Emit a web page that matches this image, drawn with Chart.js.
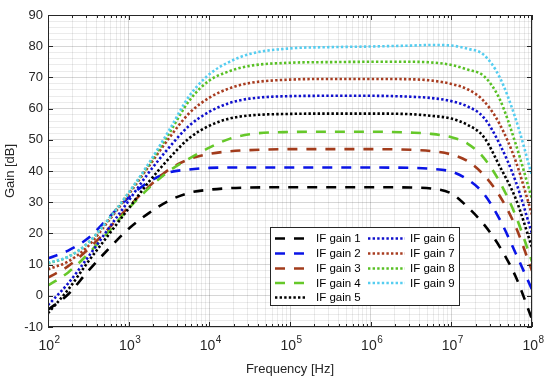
<!DOCTYPE html>
<html>
<head>
<meta charset="utf-8">
<script src="https://cdn.jsdelivr.net/npm/chart.js@4"></script>
<style>
  html, body { margin: 0; padding: 0; background: #ffffff; }
  #wrap { width: 550px; height: 377px; position: relative; }
</style>
</head>
<body>
<div id="wrap"><canvas id="gainChart"></canvas></div>
<script>
// ===== DATA =====
const freqHz = [100, 178, 316, 562, 1000, 1778, 3162, 5623, 10000, 17783, 31623,
  100000, 316228, 1000000, 3162278, 5623413, 10000000, 15848932, 25118864,
  39810717, 63095734, 100000000];

const gain1 = [-4.5, 0.5, 8, 15, 21.5, 26.5, 30.5, 33, 34, 34.5, 34.7, 34.8, 34.8, 34.8, 34.7, 34.4, 32.8, 28.5, 23, 15.7, 6, -7.5];
const gain2 = [12, 14.5, 18.5, 25, 31.5, 36.5, 39.5, 40.5, 41, 41.1, 41.1, 41.1, 41.1, 41.1, 41, 40.7, 39.8, 37.3, 32.8, 24.5, 13.5, 2];
const gain3 = [5.8, 9.5, 15, 21.5, 28.5, 35, 40.5, 43.8, 45.5, 46.3, 46.7, 47, 47, 47, 46.8, 46.4, 45.3, 43.2, 38.8, 32, 22, 8];
const gain4 = [3.3, 7.5, 13.5, 20.5, 28, 34.5, 40, 44, 47.5, 50.3, 51.8, 52.5, 52.6, 52.6, 52.3, 51.9, 50.8, 48.8, 44.3, 36.5, 25.5, 11];
const gain5 = [-5.6, 2, 11, 19.5, 28, 36.5, 44, 50.5, 54.5, 56.8, 57.8, 58.3, 58.4, 58.4, 58.2, 57.7, 56.8, 54.8, 51, 41.5, 31, 15.5];
const gain6 = [-3, 4, 12.5, 21.5, 30.5, 39.5, 47.5, 54.5, 59, 61.8, 63.2, 64, 64.1, 64.1, 63.8, 63.4, 62.4, 60.7, 57.2, 48.6, 36.5, 20];
const gain7 = [8.5, 11, 16, 24, 32.5, 41.5, 50.5, 58.5, 63.5, 66.5, 68.2, 69.3, 69.5, 69.5, 69.4, 69, 67.9, 66.2, 62.5, 55, 43, 26];
const gain8 = [10.4, 12.5, 17, 24.5, 33, 42, 52, 62.5, 69, 72, 73.7, 74.7, 74.9, 75, 75, 74.8, 74, 72.5, 70.5, 63, 48.5, 31];
const gain9 = [10.5, 12.5, 17, 24.5, 33, 42.5, 53, 64, 71, 75, 77.5, 79.3, 79.7, 79.9, 80.2, 80.4, 80.2, 79.2, 77.3, 70, 56.5, 38.5];

const seriesNames = ["IF gain 1", "IF gain 2", "IF gain 3", "IF gain 4", "IF gain 5",
  "IF gain 6", "IF gain 7", "IF gain 8", "IF gain 9"];
const seriesValues = [gain1, gain2, gain3, gain4, gain5, gain6, gain7, gain8, gain9];

const yMin = -10;
const yMax = 90;
const decadeExps = [2, 3, 4, 5, 6, 7, 8];

// ===== STYLE =====
const seriesColors = ["#000000", "#0a14e6", "#a23c1c", "#66c82a", "#000000",
  "#1010cc", "#a83c20", "#58c024", "#55cdf0"];
const DASHED = [10, 9];
const DOTTED = [2.4, 2.2];
const seriesDash = [DASHED, DASHED, DASHED, DASHED, DOTTED, DOTTED, DOTTED, DOTTED, DOTTED];

const FONT = "'Liberation Sans', Arial, sans-serif";
const AXIS_COLOR = "#262626";
const GRID_MAJOR = "rgba(0,0,0,0.16)";
const GRID_MINOR = "rgba(0,0,0,0.08)";

function isDecade(v) {
  const l = Math.log10(v);
  return Math.abs(l - Math.round(l)) < 1e-9;
}

// grid positions for the log axis (1..9 per decade)
const xGridTicks = [];
for (let e = 2; e < 8; e++) {
  for (let m = 1; m <= 9; m++) xGridTicks.push(m * Math.pow(10, e));
}
xGridTicks.push(1e8);

const datasets = seriesValues.map((vals, i) => ({
  label: seriesNames[i],
  data: vals.map((v, k) => ({ x: freqHz[k], y: v })),
  borderColor: seriesColors[i],
  backgroundColor: seriesColors[i],
  borderDash: seriesDash[i],
  borderWidth: 2.6,
  borderCapStyle: "butt",
  pointRadius: 0,
  fill: false,
  cubicInterpolationMode: "monotone",
  order: seriesValues.length - 1 - i
}));

// ===== FRAME, LOG LABELS, LEGEND =====
const framePlugin = {
  id: "framePlugin",
  afterDraw(chart) {
    const { ctx, chartArea: a, scales } = chart;
    const xs = scales.x;
    const ys = scales.y;
    ctx.save();

    // inward ticks on all sides
    ctx.strokeStyle = AXIS_COLOR;
    ctx.lineWidth = 1;
    ctx.beginPath();
    xs.ticks.forEach((t) => {
      const px = Math.round(xs.getPixelForValue(t.value)) + 0.5;
      const len = isDecade(t.value) ? 5 : 3;
      ctx.moveTo(px, a.bottom);
      ctx.lineTo(px, a.bottom - len);
      ctx.moveTo(px, a.top);
      ctx.lineTo(px, a.top + len);
    });
    ys.ticks.forEach((t) => {
      if (Math.abs(t.value % 10) > 1e-6) return;
      const py = Math.round(ys.getPixelForValue(t.value)) + 0.5;
      ctx.moveTo(a.left, py);
      ctx.lineTo(a.left + 5, py);
      ctx.moveTo(a.right, py);
      ctx.lineTo(a.right - 5, py);
    });
    ctx.stroke();
    ctx.strokeRect(Math.round(a.left) + 0.5, Math.round(a.top) + 0.5,
      Math.round(a.width) - 1, Math.round(a.height) - 1);

    // x tick labels 10^n
    ctx.fillStyle = AXIS_COLOR;
    ctx.textBaseline = "alphabetic";
    ctx.textAlign = "left";
    decadeExps.forEach((e) => {
      const px = xs.getPixelForValue(Math.pow(10, e));
      ctx.font = "14px " + FONT;
      const w1 = ctx.measureText("10").width;
      ctx.font = "10px " + FONT;
      const w2 = ctx.measureText(String(e)).width;
      const x0 = px - (w1 + w2) / 2 + 1;
      ctx.font = "14px " + FONT;
      ctx.fillText("10", x0, 350);
      ctx.font = "10px " + FONT;
      ctx.fillText(String(e), x0 + w1 + 0.5, 343);
    });

    // legend box
    const box = { x: 270.5, y: 227.5, w: 189, h: 78 };
    ctx.fillStyle = "#ffffff";
    ctx.fillRect(box.x, box.y, box.w, box.h);
    ctx.strokeStyle = AXIS_COLOR;
    ctx.lineWidth = 1;
    ctx.strokeRect(box.x, box.y, box.w, box.h);

    const rowY = [238.5, 253.5, 268.5, 283, 297.5];
    const cols = [
      { lx: 275, lw: 31, tx: 316 },
      { lx: 368, lw: 37, tx: 410 }
    ];
    ctx.font = "11.5px " + FONT;
    ctx.textBaseline = "middle";
    chart.data.datasets.forEach((ds, i) => {
      const col = cols[i < 5 ? 0 : 1];
      const y = rowY[i < 5 ? i : i - 5];
      ctx.save();
      ctx.strokeStyle = ds.borderColor;
      ctx.lineWidth = ds.borderWidth;
      ctx.setLineDash(ds.borderDash);
      ctx.lineCap = "butt";
      ctx.beginPath();
      ctx.moveTo(col.lx, y);
      ctx.lineTo(col.lx + col.lw, y);
      ctx.stroke();
      ctx.restore();
      ctx.fillStyle = "#000000";
      ctx.fillText(ds.label, col.tx, y + 0.5);
    });

    ctx.restore();
  }
};

// ===== CHART =====
new Chart(document.getElementById("gainChart").getContext("2d"), {
  type: "line",
  data: { datasets: datasets },
  options: {
    responsive: true,
    maintainAspectRatio: false,
    animation: false,
    devicePixelRatio: 1,
    layout: { padding: { top: 15, right: 18, left: 0, bottom: 0 } },
    plugins: {
      legend: { display: false },
      tooltip: { enabled: false }
    },
    scales: {
      x: {
        type: "logarithmic",
        min: 100,
        max: 1e8,
        afterBuildTicks: (scale) => {
          scale.ticks = xGridTicks.map((v) => ({ value: v }));
        },
        afterFit: (scale) => { scale.height = 50; },
        ticks: { display: false },
        grid: {
          drawTicks: false,
          color: (c) => (c.tick && isDecade(c.tick.value) ? GRID_MAJOR : GRID_MINOR)
        },
        border: { display: false },
        title: {
          display: true,
          text: "Frequency [Hz]",
          color: AXIS_COLOR,
          font: { family: FONT, size: 13 },
          padding: { top: 7, bottom: 0 }
        }
      },
      y: {
        min: yMin,
        max: yMax,
        afterFit: (scale) => { scale.width = 48; },
        ticks: {
          stepSize: 2,
          autoSkip: false,
          padding: 5,
          color: AXIS_COLOR,
          font: { family: FONT, size: 13 },
          callback: (v) => (Math.abs(v % 10) < 1e-6 ? v : "")
        },
        grid: {
          drawTicks: false,
          color: (c) => (c.tick && Math.abs(c.tick.value % 10) < 1e-6 ? GRID_MAJOR : GRID_MINOR)
        },
        border: { display: false },
        title: {
          display: true,
          text: "Gain [dB]",
          color: AXIS_COLOR,
          font: { family: FONT, size: 13 },
          padding: { top: 3, bottom: 0 }
        }
      }
    }
  },
  plugins: [framePlugin]
});
</script>
</body>
</html>
